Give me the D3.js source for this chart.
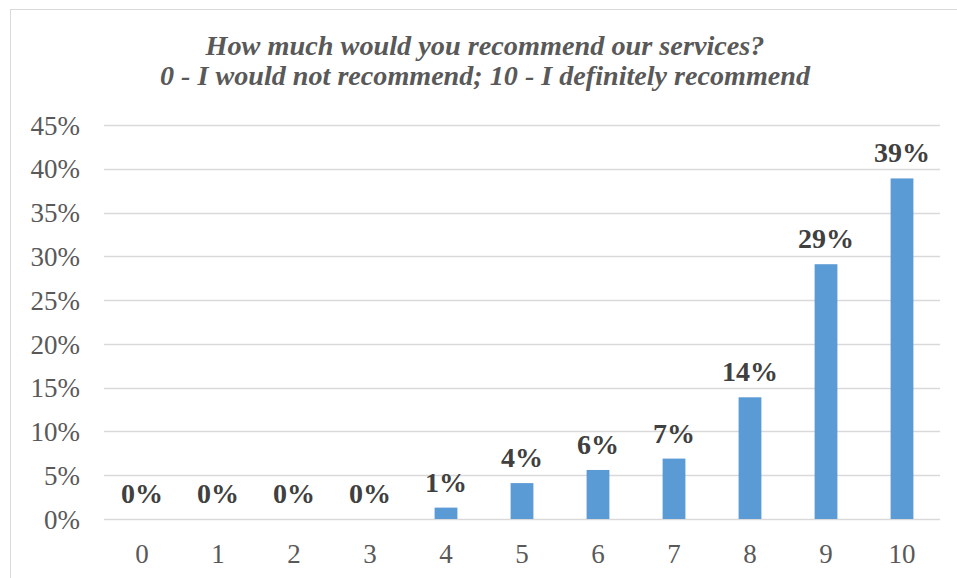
<!DOCTYPE html>
<html><head><meta charset="utf-8">
<script src="https://cdn.jsdelivr.net/npm/d3@7"></script>
<style>html,body{margin:0;padding:0;background:#fff;}</style>
</head><body>
<svg id="c" width="957" height="578"></svg>
<script>
const categories = ["0","1","2","3","4","5","6","7","8","9","10"];
const values = [0, 0, 0, 0, 1.3, 4.1, 5.6, 6.9, 13.9, 29.1, 38.9];
const valueLabels = ["0%","0%","0%","0%","1%","4%","6%","7%","14%","29%","39%"];
const yTicks = [0,5,10,15,20,25,30,35,40,45];
const titleLines = ["How much would you recommend our services?", "0 - I would not recommend; 10 - I definitely recommend"];

(function(){
const svg = d3.select("#c");
svg.append("rect").attr("x",10.5).attr("y",9.5).attr("width",960).attr("height",600)
  .attr("fill","#fff").attr("stroke","#d9d9d9").attr("stroke-width",1);

const pl=104, pr=940, pt=125, pb=519;
const x = d3.scaleBand().domain(categories).range([pl,pr]).paddingInner(0.7).paddingOuter(0.35);
const y = d3.scaleLinear().domain([0,45]).range([pb,pt]);

// title
const tl = [{t:titleLines[0], y:55, w:559},{t:titleLines[1], y:85, w:650}];
svg.selectAll("text.title").data(tl).enter().append("text").attr("class","title")
  .attr("x",485).attr("y",d=>d.y).attr("text-anchor","middle")
  .attr("textLength",d=>d.w).attr("lengthAdjust","spacingAndGlyphs")
  .style("font-family","'Liberation Serif', serif").style("font-weight","bold").style("font-style","italic")
  .style("font-size","27px").attr("fill","#595959").text(d=>d.t);

// gridlines
svg.append("g").selectAll("line").data(yTicks).enter().append("line")
  .attr("x1",pl).attr("x2",pr).attr("y1",d=>Math.round(y(d))+0.5).attr("y2",d=>Math.round(y(d))+0.5)
  .attr("stroke","#d9d9d9").attr("stroke-width",1.5);

// y axis labels
const yAxis = d3.axisLeft(y).tickValues(yTicks).tickFormat(d=>d+"%").tickSize(0).tickPadding(0);
const ya = svg.append("g").attr("transform","translate(80,0)").call(yAxis);
ya.select(".domain").remove();
ya.selectAll("text").style("font-family","'Liberation Serif', serif").style("font-size","27px").attr("fill","#595959").attr("dy","0.34em");

// x axis labels
const xAxis = d3.axisBottom(x).tickSize(0).tickPadding(0);
const xa = svg.append("g").attr("transform","translate(0,"+pb+")").call(xAxis);
xa.select(".domain").remove();
xa.selectAll("text").style("font-family","'Liberation Serif', serif").style("font-size","27px").attr("fill","#595959").attr("dy",null).attr("y",44);

// bars
svg.append("g").selectAll("rect").data(values).enter().append("rect")
  .attr("x",(d,i)=>x(categories[i])).attr("width",x.bandwidth())
  .attr("y",d=>y(d)).attr("height",d=>pb-y(d)).attr("fill","#5b9bd5");

// data labels
svg.append("g").selectAll("text").data(values).enter().append("text")
  .attr("x",(d,i)=>x(categories[i])+x.bandwidth()/2).attr("y",d=>y(d)-16)
  .attr("text-anchor","middle")
  .style("font-family","'Liberation Serif', serif").style("font-weight","bold").style("font-size","28px")
  .attr("fill","#404040").text((d,i)=>valueLabels[i]);
})();
</script>
</body></html>
